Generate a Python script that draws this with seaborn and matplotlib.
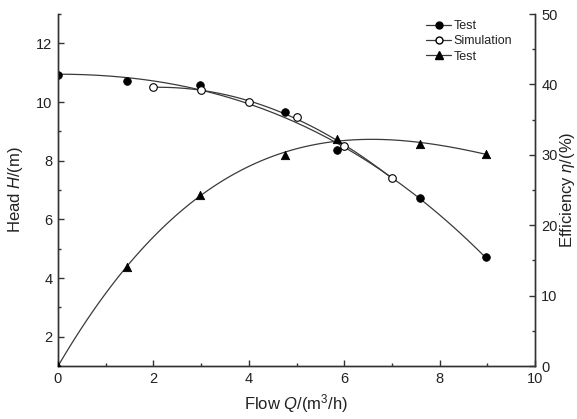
import numpy as np
import pandas as pd
import matplotlib
matplotlib.use("Agg")
import matplotlib.pyplot as plt
import seaborn as sns
from matplotlib.lines import Line2D
from matplotlib.ticker import MultipleLocator

# ---- data ----
flow_head_test = [0, 1.45, 2.97, 4.75, 5.85, 7.58, 8.98]
head_test = [10.92, 10.71, 10.58, 9.65, 8.37, 6.72, 4.70]

flow_sim = [2, 3, 4, 5, 6, 7]
head_sim = [10.50, 10.41, 10.00, 9.48, 8.50, 7.41]

flow_eff = [0, 1.45, 2.97, 4.75, 5.85, 7.58, 8.98]
eff_test = [0, 14.1, 24.3, 30.0, 32.3, 31.6, 30.1]

legend_labels = ["Test", "Simulation", "Test"]


def flat_start_fit(x, y, n=200):
    """Least-squares cubic with zero slope at x=0 (fit curve from the data)."""
    x = np.asarray(x, float)
    y = np.asarray(y, float)
    A = np.column_stack([np.ones_like(x), x**2, x**3])
    coef, *_ = np.linalg.lstsq(A, y, rcond=None)
    xs = np.linspace(x.min(), x.max(), n)
    ys = coef[0] + coef[1] * xs**2 + coef[2] * xs**3
    return pd.DataFrame({"x": xs, "y": ys})


sns.set_style("ticks")
plt.rcParams["font.family"] = ["Liberation Sans", "DejaVu Sans"]
plt.rcParams["mathtext.fontset"] = "custom"
plt.rcParams["mathtext.rm"] = "Liberation Sans"
plt.rcParams["mathtext.it"] = "Liberation Sans:italic"

txt = "#222222"
line_c = "#3a3a3a"

fig = plt.figure(figsize=(5.77, 4.19), dpi=100)
ax = fig.add_axes([58/577, 1-366/419, (535-58)/577, (366-14)/419])
ax2 = ax.twinx()

# head curves (left axis)
fit_head = flat_start_fit(flow_head_test, head_test)
sns.lineplot(data=fit_head, x="x", y="y", ax=ax, color=line_c, lw=0.9,
             estimator=None, sort=True)
sns.regplot(x=flow_sim, y=head_sim, order=3, ci=None, scatter=False,
            ax=ax, line_kws=dict(color=line_c, lw=0.9))
sns.scatterplot(x=flow_head_test, y=head_test, ax=ax, marker="o", s=30,
                color="black", edgecolor="black", linewidth=0.6, zorder=4)
sns.scatterplot(x=flow_sim, y=head_sim, ax=ax, marker="o", s=30,
                color="white", edgecolor="black", linewidth=0.8, zorder=4)

# efficiency curve (right axis)
sns.regplot(x=flow_eff, y=eff_test, order=3, ci=None, scatter=False,
            ax=ax2, line_kws=dict(color=line_c, lw=0.9))
sns.scatterplot(x=flow_eff, y=eff_test, ax=ax2, marker="^", s=36,
                color="black", edgecolor="black", linewidth=0.6, zorder=4)

ax.set_xlim(0, 10)
ax.set_ylim(1, 13)
ax2.set_ylim(0, 50)

ax.xaxis.set_major_locator(MultipleLocator(2))
ax.xaxis.set_minor_locator(MultipleLocator(1))
ax.yaxis.set_major_locator(MultipleLocator(2))
ax.yaxis.set_minor_locator(MultipleLocator(1))
ax2.yaxis.set_major_locator(MultipleLocator(10))
ax2.yaxis.set_minor_locator(MultipleLocator(5))

for a in (ax, ax2):
    a.spines["top"].set_visible(False)
    for s in a.spines.values():
        s.set_color("#333333")
        s.set_linewidth(1.0)
    a.tick_params(which="major", direction="in", length=4.5, width=1.0,
                  colors="#333333", labelsize=10.5, labelcolor=txt)
    a.tick_params(which="minor", direction="in", length=2.5, width=1.0,
                  colors="#333333")
ax.tick_params(axis="x", pad=4)
ax.tick_params(axis="y", pad=4)
ax2.tick_params(axis="y", pad=4.5)

ax.set_xlabel("Flow $Q$/(m$^3$/h)", fontsize=12, color=txt, labelpad=5)
ax.set_ylabel("Head $H$/(m)", fontsize=12, color=txt, labelpad=8)
ax2.set_ylabel("Efficiency $\\eta$/(%)", fontsize=12, color=txt, labelpad=0.5)

handles = [
    Line2D([], [], color=line_c, lw=0.9, marker="o", markersize=5,
           markerfacecolor="black", markeredgecolor="black"),
    Line2D([], [], color=line_c, lw=0.9, marker="o", markersize=5,
           markerfacecolor="white", markeredgecolor="black"),
    Line2D([], [], color=line_c, lw=0.9, marker="^", markersize=5.5,
           markerfacecolor="black", markeredgecolor="black"),
]
leg = ax.legend(handles, legend_labels, loc="upper left",
                bbox_to_anchor=((420-58)/477, 1.0), frameon=False,
                fontsize=9, handlelength=2.0, handletextpad=0.2,
                labelspacing=0.25, borderaxespad=0.1)
for t in leg.get_texts():
    t.set_color(txt)

fig.savefig("out.png", dpi=100)
